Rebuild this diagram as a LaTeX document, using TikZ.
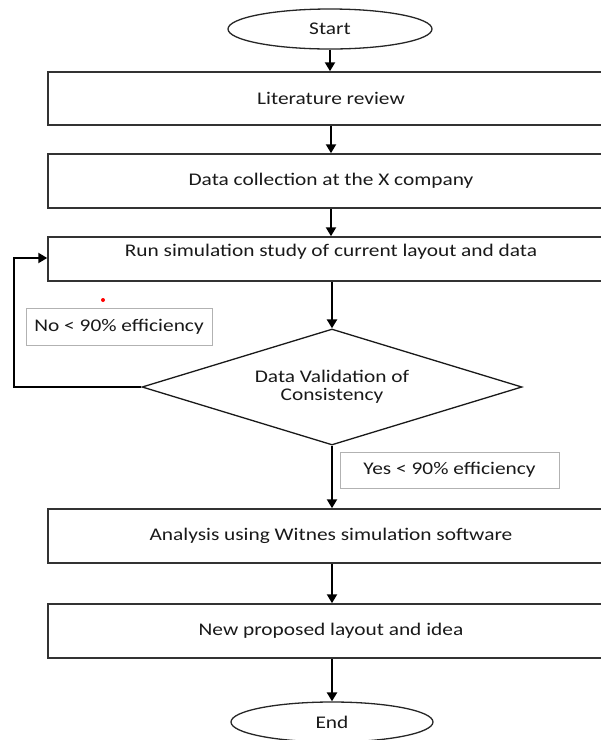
\documentclass[tikz,border=0pt]{standalone}
\usepackage{fontspec}
\setmainfont{Carlito}[FakeStretch=1.2]
\usetikzlibrary{arrows.meta,shapes.geometric}
\begin{document}
\begin{tikzpicture}[x=1pt,y=-1pt,
  every node/.style={font=\fontsize{17.8}{21}\selectfont, text=black!90},
  procbox/.style={draw=black!80, line width=1.5pt, minimum width=566pt,
    minimum height=54pt, inner sep=0pt},
  terminal/.style={draw=black!85, line width=1.3pt, ellipse,
    minimum width=204pt, minimum height=40pt, inner sep=0pt},
  decision/.style={draw=black!90, line width=1.3pt, diamond, aspect=3.28,
    minimum width=380pt, minimum height=116pt, inner sep=0pt, align=center},
  note/.style={draw=black!30, line width=1pt, inner sep=0pt},
  flow/.style={line width=2.5pt, -{Triangle[length=9pt,width=10pt]}}
]
\useasboundingbox (0,0) rectangle (601,740);
\clip (0,0) rectangle (601,740);

% terminals
\node[terminal] (start) at (330,29) {Start};
\node[terminal, minimum width=202pt] (stop) at (332,722) {End};

% process steps
\node[procbox, minimum height=53pt] (lit) at (331,98.5) {Literature review};
\node[procbox] (data) at (331,181) {Data collection at the X company};
\node[procbox, minimum height=44pt, text height=12pt, text depth=18pt]
  (sim) at (331,259) {Run simulation study of current layout and data};
\node[procbox] (anal) at (331,536) {Analysis using Witnes simulation software};
\node[procbox] (prop) at (331,631) {New proposed layout and idea};

% decision
\node[decision] (valid) at (332,387) {\raisebox{-2pt}{Data Validation of}\\[-1pt]Consistency};

% branch notes
\node[note, minimum width=186pt, minimum height=37pt] (nolab) at (119,326.5)
  {No < 90\% efficiency};
\node[note, minimum width=219pt, minimum height=36pt] (yeslab) at (449.5,470)
  {Yes < 90\% efficiency};

% connectors
\draw[flow] (start.south) -- (lit.north -| start.south);
\draw[flow] (lit) -- (data);
\draw[flow] (data) -- (sim);
\draw[flow] (sim.south -| valid.north) -- (valid.north);
\draw[flow] (valid.south) -- (anal.north -| valid.south);
\draw[flow] (anal.south -| valid.south) -- (prop.north -| valid.south);
\draw[flow] (prop.south -| stop.north) -- (stop.north);

\coordinate (loopcorner) at (14,387);
\draw[flow] (valid.west) -- (loopcorner) |- ([yshift=1pt]sim.west);

% stray mark
\fill[red] (103,300) circle (2pt);
\end{tikzpicture}
\end{document}
